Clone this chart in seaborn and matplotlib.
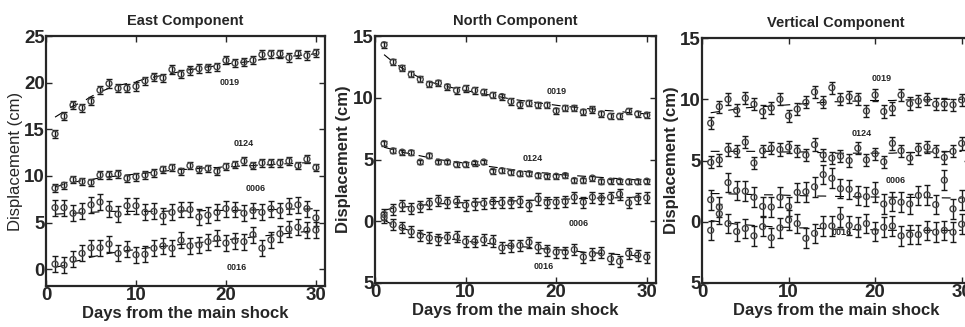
import numpy as np
import pandas as pd
import matplotlib
matplotlib.use("Agg")
import matplotlib.pyplot as plt
import seaborn as sns

sns.set_style("ticks")
plt.rcParams["font.family"] = ["Liberation Sans", "DejaVu Sans"]

days = list(range(1, 31))
stations = ["0019", "0124", "0006", "0016"]

# East component (cm)
east_0019 = [14.5, 16.4, 17.6, 17.3, 18.0, 19.2, 19.9, 19.4, 19.4, 19.6, 20.2, 20.6, 20.5, 21.4, 20.9,
             21.3, 21.5, 21.6, 21.7, 22.4, 22.1, 22.2, 22.4, 23.0, 23.1, 23.1, 22.7, 23.1, 22.9, 23.2]
east_0124 = [8.7, 9.0, 9.6, 9.4, 9.3, 10.1, 10.1, 10.2, 9.75, 9.9, 10.1, 10.3, 10.7, 10.9, 10.5,
             11.1, 10.7, 10.8, 10.5, 11.0, 11.2, 11.6, 11.1, 11.4, 11.4, 11.4, 11.6, 11.1, 11.8, 10.9]
east_0006 = [6.6, 6.6, 6.0, 6.2, 6.9, 7.2, 6.5, 5.9, 6.8, 6.8, 6.1, 6.2, 5.7, 6.1, 6.4,
             6.4, 5.6, 5.8, 6.1, 6.5, 6.4, 6.0, 6.3, 6.1, 6.5, 6.3, 6.8, 6.9, 6.5, 5.5]
east_0016 = [0.55, 0.45, 1.05, 1.7, 2.3, 2.3, 2.7, 1.7, 2.15, 1.55, 1.6, 2.25, 2.5, 2.25, 3.1,
             2.5, 2.6, 2.95, 3.3, 2.8, 3.05, 2.95, 3.7, 2.25, 3.15, 3.8, 4.3, 4.5, 4.2, 4.2]
east_fit_0019 = [16.3, 16.9, 17.5, 17.9, 18.5, 19.0, 19.4, 19.7, 19.9, 20.1, 20.4, 20.6, 20.8, 21.0, 21.2,
                 21.4, 21.5, 21.7, 21.8, 22.0, 22.1, 22.2, 22.3, 22.5, 22.6, 22.7, 22.8, 22.9, 23.0, 23.1]
east_fit_0124 = [8.8, 9.1, 9.3, 9.5, 9.6, 9.8, 9.9, 10.0, 10.1, 10.2, 10.3, 10.4, 10.5, 10.6, 10.7,
                 10.7, 10.8, 10.9, 10.9, 11.0, 11.0, 11.1, 11.1, 11.2, 11.2, 11.3, 11.3, 11.4, 11.4, 11.4]
east_fit_0006 = [5.9, 5.95, 6.0, 6.05, 6.1, 6.15, 6.2, 6.2, 6.2, 6.2, 6.2, 6.2, 6.2, 6.25, 6.25,
                 6.25, 6.25, 6.3, 6.3, 6.3, 6.3, 6.35, 6.35, 6.4, 6.4, 6.4, 6.45, 6.45, 6.45, 6.5]
east_fit_0016 = [0.2, 0.4, 0.8, 1.0, 1.3, 1.5, 1.7, 1.85, 2.0, 2.1, 2.25, 2.35, 2.45, 2.55, 2.65,
                 2.75, 2.85, 2.95, 3.05, 3.15, 3.25, 3.35, 3.45, 3.55, 3.65, 3.75, 3.85, 3.95, 4.05, 4.15]
east_err = [0.45, 0.4, 0.85, 0.85]

# North component (cm)
north_0019 = [14.3, 12.9, 12.4, 11.9, 11.5, 11.1, 11.2, 10.9, 10.6, 10.75, 10.6, 10.45, 10.2, 10.1, 9.7,
              9.45, 9.55, 9.4, 9.4, 8.95, 9.15, 9.15, 8.85, 9.05, 8.7, 8.5, 8.5, 8.9, 8.7, 8.6]
north_0124 = [6.3, 5.7, 5.6, 5.55, 4.8, 5.3, 4.8, 4.8, 4.6, 4.6, 4.7, 4.8, 4.05, 4.1, 3.95,
              3.85, 3.85, 3.7, 3.65, 3.65, 3.7, 3.3, 3.3, 3.5, 3.2, 3.25, 3.25, 3.2, 3.2, 3.25]
north_0006 = [0.55, 0.95, 1.3, 1.0, 1.2, 1.45, 1.7, 1.55, 1.6, 1.3, 1.4, 1.45, 1.55, 1.5, 1.55,
              1.6, 1.3, 1.8, 1.5, 1.55, 1.6, 1.95, 1.55, 1.95, 1.85, 1.95, 2.2, 1.5, 1.85, 1.9]
north_0016 = [0.3, -0.27, -0.5, -0.85, -1.15, -1.35, -1.45, -1.3, -1.25, -1.65, -1.65, -1.5, -1.6, -2.15, -2.0,
              -1.95, -1.7, -2.1, -2.35, -2.5, -2.5, -2.3, -2.9, -2.65, -2.55, -3.05, -3.25, -2.6, -2.75, -2.9]
north_fit_0019 = [13.5, 12.9, 12.4, 12.0, 11.6, 11.3, 11.1, 10.9, 10.75, 10.6, 10.45, 10.3, 10.2, 10.05, 9.9,
                  9.8, 9.7, 9.6, 9.5, 9.4, 9.3, 9.25, 9.15, 9.1, 9.0, 8.95, 8.9, 8.8, 8.75, 8.7]
north_fit_0124 = [6.0, 5.8, 5.6, 5.45, 5.3, 5.15, 5.0, 4.9, 4.8, 4.7, 4.6, 4.5, 4.4, 4.3, 4.2,
                  4.1, 4.0, 3.95, 3.9, 3.8, 3.75, 3.7, 3.65, 3.6, 3.55, 3.5, 3.45, 3.4, 3.35, 3.3]
north_fit_0006 = [0.9, 1.05, 1.15, 1.2, 1.3, 1.35, 1.4, 1.45, 1.5, 1.5, 1.55, 1.55, 1.6, 1.6, 1.65,
                  1.65, 1.7, 1.7, 1.75, 1.75, 1.8, 1.8, 1.85, 1.85, 1.9, 1.9, 1.9, 1.95, 1.95, 2.0]
north_fit_0016 = [0.1, -0.3, -0.55, -0.8, -1.0, -1.15, -1.3, -1.4, -1.5, -1.6, -1.7, -1.75, -1.85, -1.9, -2.0,
                  -2.05, -2.1, -2.2, -2.25, -2.3, -2.35, -2.4, -2.5, -2.55, -2.6, -2.65, -2.7, -2.75, -2.8, -2.85]
north_err = [0.25, 0.2, 0.45, 0.45]

# Vertical component (cm)
vert_0019 = [8.05, 9.4, 10.0, 9.1, 10.1, 9.6, 9.0, 9.3, 10.0, 8.65, 9.2, 9.75, 10.6, 9.75, 10.95,
             10.0, 10.2, 10.05, 9.05, 10.35, 9.0, 9.25, 10.35, 9.65, 9.85, 10.0, 9.6, 9.6, 9.55, 9.95]
vert_0124 = [4.85, 5.05, 5.9, 5.75, 6.5, 4.8, 5.8, 6.0, 5.9, 6.1, 5.8, 5.45, 6.3, 5.45, 5.2,
             5.35, 5.0, 6.0, 5.05, 5.55, 4.9, 6.4, 5.8, 5.2, 5.95, 6.1, 5.8, 5.25, 5.75, 6.4]
vert_0006 = [1.8, 1.2, 3.2, 2.55, 2.5, 2.0, 1.25, 1.2, 2.0, 1.25, 2.4, 2.45, 2.85, 3.85, 3.55,
             2.7, 2.65, 2.15, 2.05, 2.45, 1.45, 1.65, 1.6, 1.45, 2.15, 2.2, 1.4, 3.4, 1.05, 1.8]
vert_0016 = [-0.7, 0.65, -0.15, -0.8, -0.55, -1.15, -0.4, -1.3, -0.5, 0.15, -0.15, -1.35, -0.95, -0.35, -0.35,
             0.4, -0.3, -0.45, -0.15, -0.8, -0.45, -0.35, -1.15, -1.05, -1.05, -0.7, -0.85, -0.7, -0.85, -0.2]
vert_fit_0019 = [8.9, 9.0, 9.1, 9.2, 9.3, 9.35, 9.4, 9.45, 9.5, 9.55, 9.6, 9.65, 9.7, 9.75, 9.8,
                 9.8, 9.85, 9.85, 9.9, 9.9, 9.9, 9.9, 9.95, 9.95, 9.95, 9.95, 10.0, 10.0, 10.0, 10.0]
vert_fit_0124 = [5.75, 5.75, 5.75, 5.75, 5.75, 5.75, 5.75, 5.75, 5.7, 5.7, 5.7, 5.7, 5.65, 5.65, 5.6,
                 5.6, 5.6, 5.6, 5.6, 5.6, 5.6, 5.6, 5.65, 5.65, 5.65, 5.7, 5.7, 5.7, 5.75, 5.75]
vert_fit_0006 = [2.3, 2.3, 2.28, 2.26, 2.24, 2.22, 2.2, 2.2, 2.18, 2.16, 2.14, 2.12, 2.1, 2.1, 2.08,
                 2.06, 2.05, 2.04, 2.03, 2.02, 2.01, 2.0, 2.0, 1.99, 1.98, 1.97, 1.96, 1.95, 1.94, 1.93]
vert_fit_0016 = [0.1, 0.0, -0.1, -0.2, -0.25, -0.3, -0.35, -0.4, -0.45, -0.45, -0.5, -0.5, -0.55, -0.55, -0.6,
                 -0.6, -0.6, -0.65, -0.65, -0.65, -0.7, -0.7, -0.7, -0.7, -0.7, -0.7, -0.7, -0.7, -0.7, -0.7]
vert_err = [0.5, 0.5, 0.8, 0.8]

titles = ["East Component", "North Component", "Vertical Component"]
ytick_vals = [[0, 5, 10, 15, 20, 25], [-5, 0, 5, 10, 15], [-5, 0, 5, 10, 15]]
ytick_text = [["0", "5", "10", "15", "20", "25"], ["5", "0", "5", "10", "15"], ["5", "0", "5", "10", "15"]]
ylims = [(-1.8, 25), (-5, 15), (-5, 15)]
label_pos = [
    [(20.4, 20.0), (22.0, 13.5), (23.3, 8.7), (21.2, 0.2)],
    [(20.1, 10.5), (17.4, 5.1), (22.5, -0.2), (18.6, -3.7)],
    [(20.8, 11.7), (18.4, 7.2), (22.4, 3.4), (16.2, -0.9)],
]

obs = [[east_0019, east_0124, east_0006, east_0016],
       [north_0019, north_0124, north_0006, north_0016],
       [vert_0019, vert_0124, vert_0006, vert_0016]]
fits = [[east_fit_0019, east_fit_0124, east_fit_0006, east_fit_0016],
        [north_fit_0019, north_fit_0124, north_fit_0006, north_fit_0016],
        [vert_fit_0019, vert_fit_0124, vert_fit_0006, vert_fit_0016]]
errs = [east_err, north_err, vert_err]

rows = []
for c, comp in enumerate(titles):
    for s, st in enumerate(stations):
        for d, v, f in zip(days, obs[c][s], fits[c][s]):
            rows.append({"component": comp, "station": st, "day": d, "disp": v, "fit": f, "err": errs[c][s]})
df = pd.DataFrame(rows)

fig = plt.figure(figsize=(9.65, 3.27), dpi=100)
positions = [[0.0477, 0.1254, 0.289, 0.7645],
             [0.3886, 0.1346, 0.291, 0.755],
             [0.7275, 0.1346, 0.278, 0.749]]

for c, comp in enumerate(titles):
    ax = fig.add_axes(positions[c])
    sub = df[df["component"] == comp]
    sns.lineplot(data=sub, x="day", y="fit", units="station", estimator=None, color="black",
                 lw=0.8, dashes=False, ax=ax, legend=False)
    for line in ax.get_lines():
        line.set_dashes([8, 8])
    for st in stations:
        g = sub[sub["station"] == st]
        ax.errorbar(g["day"], g["disp"], yerr=g["err"], fmt="none", ecolor="#1a1a1a",
                    elinewidth=1.0, capsize=2.5, capthick=1.0)
        sns.scatterplot(x=g["day"], y=g["disp"], marker="o", s=18, facecolor="none",
                        edgecolor="#444444", linewidth=1.0, ax=ax, zorder=3)
    for (lx, ly), st in zip(label_pos[c], stations):
        ax.text(lx, ly, st, fontsize=6.5, fontweight="bold", ha="center", va="center")

    ax.set_xlim(0, 31)
    ax.set_ylim(*ylims[c])
    ax.set_xticks([0, 10, 20, 30])
    ax.set_xticklabels(["0", "10", "20", "30"])
    ax.set_yticks(ytick_vals[c])
    ax.set_yticklabels(ytick_text[c])
    ax.tick_params(direction="in", top=True, right=True, length=4, width=1.0,
                   labelsize=13.5, pad=1)
    for lab in ax.get_xticklabels() + ax.get_yticklabels():
        lab.set_fontweight("bold")
    for sp in ax.spines.values():
        sp.set_linewidth(1.6)
    ax.set_title(comp, fontsize=10.5, fontweight="bold", pad=8)
    ax.set_xlabel("Days from the main shock", fontsize=12, fontweight="bold", labelpad=1)
    ax.set_ylabel("Displacement (cm)", fontsize=12, fontweight="normal" if c == 0 else "bold", labelpad=1)

fig.savefig("out.png", dpi=100)
